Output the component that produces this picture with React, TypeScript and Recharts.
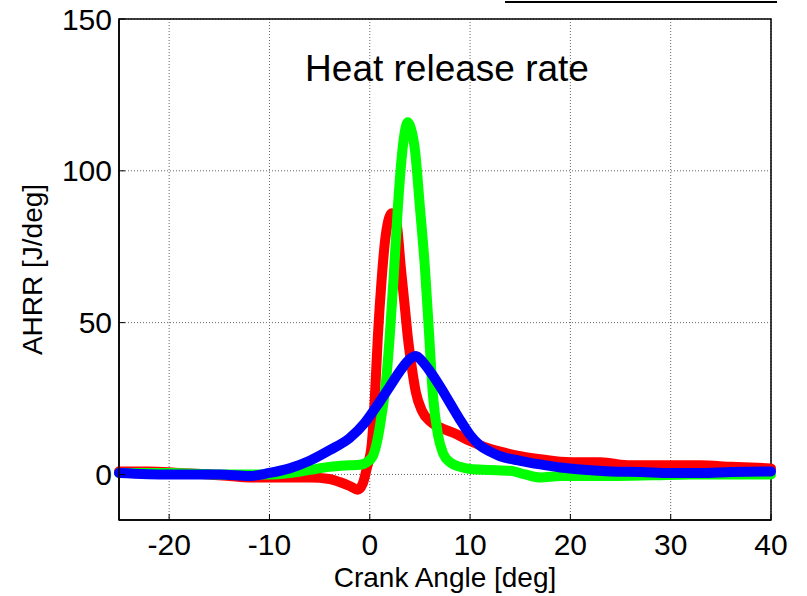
import React from 'react';
import { LineChart, Line, XAxis, YAxis, CartesianGrid, ReferenceArea } from 'recharts';

const FONT = '"Liberation Sans", Arial, sans-serif';

const xTicks = [-20, -10, 0, 10, 20, 30, 40];
const yTicks = [0, 50, 100, 150];

const redAngle = [-25, -22, -19, -16, -14, -12, -9, -6, -4, -3, -2, -1.2, -0.7, -0.3, 0.2, 0.5, 0.8, 1.2, 1.6, 2.2, 2.7, 3.1, 3.5, 3.8, 4.2, 4.6, 5.2, 6, 7, 8.5, 10, 11.5, 13, 15, 17, 20, 23, 26, 30, 33, 36, 40];
const redHrr = [1, 1, 0.5, 0, -0.5, -1, -1, -1, -1.5, -2.5, -3.8, -5, -3, 2, 10, 25, 45, 65, 79, 86, 82, 68, 55, 45, 35, 27, 21, 17.5, 15.5, 13.5, 11, 9, 7.5, 6, 5, 4, 4, 3, 3, 3, 2.5, 2];

const greenAngle = [-25, -20, -15, -12, -10, -8, -6, -4, -2, -1, -0.3, 0.3, 0.8, 1.2, 1.6, 2.0, 2.4, 2.8, 3.2, 3.5, 3.8, 4.1, 4.5, 5.0, 5.5, 5.9, 6.3, 6.8, 7.3, 8, 9, 10, 12, 14, 15.5, 17, 19, 21, 24, 28, 32, 36, 40];
const greenHrr = [0.5, 0.5, 0, 0, 0, 0.5, 1.5, 2.5, 3, 3.2, 4, 6, 12, 20, 30, 46, 66, 88, 105, 113, 116, 114, 107, 88, 68, 47, 26, 13, 7, 4, 2.5, 1.8, 1.5, 1.2, 0, -1, -0.5, -0.5, -0.5, -0.3, 0, 0, 0];

const blueAngle = [-25, -20, -15, -12, -10, -8, -6, -4, -2, -0.5, 1, 2, 3, 4, 4.6, 5.3, 6, 7, 8, 9, 10, 11, 12, 13, 15, 17, 19, 21, 24, 27, 30, 33, 36, 40];
const blueHrr = [0.5, 0, 0, -0.5, 0.5, 2, 4.5, 8, 12, 17, 24, 29, 34, 38, 39, 37, 34, 29, 23.5, 18, 13, 9.5, 7.5, 6, 4.5, 3.3, 2.3, 1.6, 1, 0.8, 0.5, 0.5, 0.8, 1];

const toPoints = (xs: number[], ys: number[]) => xs.map((x, i) => ({ angle: x, hrr: ys[i] }));

const series = [
    { name: 'red', color: '#ff0000', data: toPoints(redAngle, redHrr) },
    { name: 'green', color: '#00ff00', data: toPoints(greenAngle, greenHrr) },
    { name: 'blue', color: '#0000ff', data: toPoints(blueAngle, blueHrr) },
];

const App: React.FC = () => {
    return (
        <div style={{ position: 'absolute', left: 0, top: 0, width: 807, height: 596, background: '#fff', fontFamily: FONT }}>
            <div style={{ position: 'absolute', left: 505, top: 1, width: 272, height: 0, borderTop: '2px solid #000' }} />
            <LineChart width={807} height={596} margin={{ top: 19, right: 36, bottom: 0, left: 0 }}>
                <CartesianGrid stroke="#666" strokeDasharray="1 2" strokeWidth={1} />
                <XAxis
                    dataKey="angle"
                    type="number"
                    domain={[-25, 40]}
                    ticks={xTicks}
                    height={76}
                    allowDuplicatedCategory={false}
                    axisLine={{ stroke: '#000', strokeWidth: 1.5 }}
                    tickLine={{ stroke: '#000' }}
                    tickSize={-6}
                    tickMargin={20}
                    tick={{ fill: '#000', fontSize: 30, fontFamily: FONT }}
                    label={{ value: 'Crank Angle [deg]', position: 'insideBottom', offset: 9, fill: '#000', fontSize: 28, fontFamily: FONT }}
                />
                <YAxis
                    dataKey="hrr"
                    type="number"
                    domain={[-15, 150]}
                    ticks={yTicks}
                    width={119}
                    axisLine={{ stroke: '#000', strokeWidth: 1.5 }}
                    tickLine={{ stroke: '#000' }}
                    tickSize={-6}
                    tickMargin={13}
                    tick={{ fill: '#000', fontSize: 30, fontFamily: FONT }}
                    label={{ value: 'AHRR [J/deg]', angle: -90, position: 'insideLeft', offset: 32, fill: '#000', fontSize: 28, fontFamily: FONT, style: { textAnchor: 'middle' } }}
                />
                <ReferenceArea x1={-25} x2={40} y1={-15} y2={150} fill="none" stroke="#000" strokeWidth={1.5} />
                {series.map(s => (
                    <Line
                        key={s.name}
                        data={s.data}
                        dataKey="hrr"
                        type="monotone"
                        stroke={s.color}
                        strokeWidth={10}
                        strokeLinejoin="round"
                        strokeLinecap="round"
                        dot={false}
                        isAnimationActive={false}
                    />
                ))}
            </LineChart>
            <div style={{ position: 'absolute', left: 297, top: 50, width: 300, textAlign: 'center', fontSize: 37, color: '#000', lineHeight: '37px', whiteSpace: 'nowrap' }}>
                Heat release rate
            </div>
        </div>
    );
};

export default App;
